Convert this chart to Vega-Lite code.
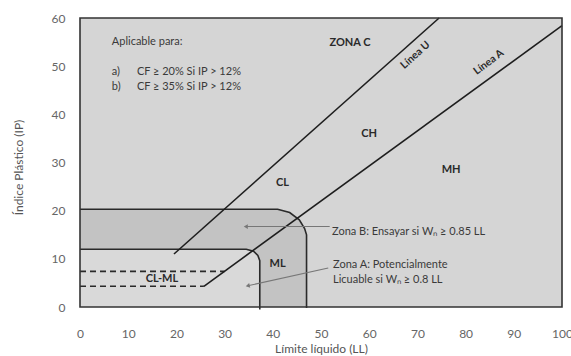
{
  "$schema": "https://vega.github.io/schema/vega-lite/v6.json",
  "width": 482,
  "height": 289,
  "autosize": {"type": "none"},
  "padding": {"left": 80, "top": 18, "right": 9, "bottom": 49},
  "background": "white",
  "config": {
    "view": {"stroke": null},
    "font": "Lato",
    "text": {"font": "Lato"}
  },
  "datasets": {
    "frame": [{"ll0": 0, "ll1": 100, "ip0": 0, "ip1": 60}],
    "zoneB": [
      {"ll": 0, "ip": 20.3},
      {"ll": 41, "ip": 20.3},
      {"ll": 43.5, "ip": 19.6},
      {"ll": 45.5, "ip": 18.1},
      {"ll": 46.6, "ip": 16.3},
      {"ll": 47, "ip": 15}
    ],
    "zoneA": [
      {"ll": 0, "ip": 12},
      {"ll": 34.5, "ip": 12},
      {"ll": 36, "ip": 11.6},
      {"ll": 36.9, "ip": 10.7},
      {"ll": 37.3, "ip": 9.6}
    ],
    "outlines": [
      {"id": "B", "k": 1, "ll": 0, "ip": 20.3},
      {"id": "B", "k": 2, "ll": 41, "ip": 20.3},
      {"id": "B", "k": 3, "ll": 43.5, "ip": 19.6},
      {"id": "B", "k": 4, "ll": 45.5, "ip": 18.1},
      {"id": "B", "k": 5, "ll": 46.6, "ip": 16.3},
      {"id": "B", "k": 6, "ll": 47, "ip": 15},
      {"id": "B", "k": 7, "ll": 47, "ip": -0.2},
      {"id": "A", "k": 1, "ll": 0, "ip": 12},
      {"id": "A", "k": 2, "ll": 34.5, "ip": 12},
      {"id": "A", "k": 3, "ll": 36, "ip": 11.6},
      {"id": "A", "k": 4, "ll": 36.9, "ip": 10.7},
      {"id": "A", "k": 5, "ll": 37.3, "ip": 9.6},
      {"id": "A", "k": 6, "ll": 37.3, "ip": -0.5}
    ],
    "classLines": [
      {"id": "U", "k": 1, "ll": 19.5, "ip": 11},
      {"id": "U", "k": 2, "ll": 74.5, "ip": 60},
      {"id": "Aline", "k": 1, "ll": 25.7, "ip": 4.3},
      {"id": "Aline", "k": 2, "ll": 100, "ip": 58.4}
    ],
    "dashed": [
      {"id": "d4", "k": 1, "ll": 0, "ip": 4.3},
      {"id": "d4", "k": 2, "ll": 25.7, "ip": 4.3},
      {"id": "d7", "k": 1, "ll": 0, "ip": 7.4},
      {"id": "d7", "k": 2, "ll": 30, "ip": 7.4}
    ],
    "arrows": [
      {"id": "toB", "k": 1, "ll": 34.4, "ip": 16.7},
      {"id": "toB", "k": 2, "ll": 51.8, "ip": 16.7},
      {"id": "toA", "k": 1, "ll": 34.8, "ip": 4.4},
      {"id": "toA", "k": 2, "ll": 51.5, "ip": 8.1}
    ],
    "heads": [
      {"ll": 34.4, "ip": 16.7, "rot": 0},
      {"ll": 34.8, "ip": 4.4, "rot": -13}
    ],
    "notes": [
      {"ll": 6.6, "ip": 55, "label": "Aplicable para:"},
      {"ll": 6.6, "ip": 48.8, "label": "a)"},
      {"ll": 11.8, "ip": 48.8, "label": "CF ≥ 20% Si IP > 12%"},
      {"ll": 6.6, "ip": 45.6, "label": "b)"},
      {"ll": 11.8, "ip": 45.6, "label": "CF ≥ 35% Si IP > 12%"},
      {"ll": 52.3, "ip": 15.6, "label": "Zona B: Ensayar si Wₙ ≥ 0.85 LL"},
      {"ll": 52.5, "ip": 8.7, "label": "Zona A: Potencialmente"},
      {"ll": 52.5, "ip": 5.6, "label": "Licuable si Wₙ ≥ 0.8 LL"}
    ],
    "zones": [
      {"ll": 56, "ip": 54.8, "label": "ZONA C"},
      {"ll": 60, "ip": 36, "label": "CH"},
      {"ll": 77, "ip": 28.4, "label": "MH"},
      {"ll": 42, "ip": 25.7, "label": "CL"},
      {"ll": 41, "ip": 9, "label": "ML"},
      {"ll": 17, "ip": 5.8, "label": "CL-ML"}
    ],
    "lineU": [{"ll": 69.6, "ip": 52.3, "label": "Línea U"}],
    "lineA": [{"ll": 84.8, "ip": 50.8, "label": "Línea A"}]
  },
  "encoding": {
    "x": {
      "field": "ll",
      "type": "quantitative",
      "scale": {"domain": [0, 100], "nice": false},
      "axis": {
        "title": "Límite líquido (LL)",
        "values": [0, 10, 20, 30, 40, 50, 60, 70, 80, 90, 100],
        "grid": false,
        "domain": false,
        "ticks": false,
        "labelPadding": 21,
        "labelFontSize": 12,
        "labelColor": "#666666",
        "labelFont": "Lato",
        "labelFlush": false,
        "titleFont": "Lato",
        "titleFontSize": 12,
        "titleFontWeight": "normal",
        "titleColor": "#555555",
        "titleY": 41,
        "titleBaseline": "middle"
      }
    },
    "y": {
      "field": "ip",
      "type": "quantitative",
      "scale": {"domain": [0, 60], "nice": false},
      "axis": {
        "title": "Índice Plástico (IP)",
        "values": [0, 10, 20, 30, 40, 50, 60],
        "grid": false,
        "domain": false,
        "ticks": false,
        "labelPadding": 15,
        "labelFontSize": 12,
        "labelColor": "#666666",
        "labelFont": "Lato",
        "labelFlush": false,
        "titleFont": "Lato",
        "titleFontSize": 12,
        "titleFontWeight": "normal",
        "titleColor": "#555555",
        "titleX": -62,
        "titleY": 149,
        "titleAngle": -90,
        "titleBaseline": "middle"
      }
    }
  },
  "layer": [
    {
      "data": {"name": "frame"},
      "mark": {"type": "rect", "fill": "#d5d5d5"},
      "encoding": {
        "x": {"field": "ll0", "type": "quantitative"},
        "x2": {"field": "ll1"},
        "y": {"field": "ip0", "type": "quantitative"},
        "y2": {"field": "ip1"}
      }
    },
    {
      "data": {"name": "zoneB"},
      "mark": {"type": "area", "fill": "#c3c3c3", "orient": "vertical"},
      "encoding": {"y2": {"datum": 0}}
    },
    {
      "data": {"name": "zoneA"},
      "mark": {"type": "area", "fill": "#d9d9d9", "orient": "vertical"},
      "encoding": {"y2": {"datum": 0}}
    },
    {
      "data": {"name": "outlines"},
      "mark": {"type": "line", "color": "#2a2a2a", "strokeWidth": 1.6},
      "encoding": {
        "detail": {"field": "id"},
        "order": {"field": "k", "type": "quantitative"}
      }
    },
    {
      "data": {"name": "dashed"},
      "mark": {"type": "line", "color": "#2a2a2a", "strokeWidth": 1.6, "strokeDash": [6, 4]},
      "encoding": {
        "detail": {"field": "id"},
        "order": {"field": "k", "type": "quantitative"}
      }
    },
    {
      "data": {"name": "classLines"},
      "mark": {"type": "line", "color": "#1e1e1e", "strokeWidth": 1.6},
      "encoding": {
        "detail": {"field": "id"},
        "order": {"field": "k", "type": "quantitative"}
      }
    },
    {
      "data": {"values": [{"ll": 50}]},
      "mark": {"type": "rule", "color": "#8a8a8a", "strokeWidth": 0.8},
      "encoding": {
        "y": {"datum": 0, "type": "quantitative"},
        "y2": {"datum": 60}
      }
    },
    {
      "data": {"name": "arrows"},
      "mark": {"type": "line", "color": "#777777", "strokeWidth": 1.1},
      "encoding": {
        "detail": {"field": "id"},
        "order": {"field": "k", "type": "quantitative"}
      }
    },
    {
      "data": {"name": "heads"},
      "mark": {"type": "point", "shape": "triangle-left", "filled": true, "color": "#777777", "size": 22, "opacity": 1},
      "encoding": {
        "angle": {"field": "rot", "type": "quantitative", "scale": null}
      }
    },
    {
      "data": {"name": "notes"},
      "mark": {"type": "text", "align": "left", "baseline": "middle", "fontSize": 11, "color": "#3a3a3a", "font": "Lato"},
      "encoding": {"text": {"field": "label"}}
    },
    {
      "data": {"name": "zones"},
      "mark": {"type": "text", "align": "center", "baseline": "middle", "fontSize": 11, "fontWeight": "bold", "color": "#2a2a2a", "font": "Lato"},
      "encoding": {"text": {"field": "label"}}
    },
    {
      "data": {"name": "lineU"},
      "mark": {"type": "text", "align": "center", "baseline": "middle", "fontSize": 10.5, "fontWeight": "bold", "color": "#2a2a2a", "font": "Lato", "angle": 318},
      "encoding": {"text": {"field": "label"}}
    },
    {
      "data": {"name": "lineA"},
      "mark": {"type": "text", "align": "center", "baseline": "middle", "fontSize": 10.5, "fontWeight": "bold", "color": "#2a2a2a", "font": "Lato", "angle": 323},
      "encoding": {"text": {"field": "label"}}
    },
    {
      "data": {"name": "frame"},
      "mark": {"type": "rect", "fill": null, "stroke": "#333333", "strokeWidth": 1.6},
      "encoding": {
        "x": {"field": "ll0", "type": "quantitative"},
        "x2": {"field": "ll1"},
        "y": {"field": "ip0", "type": "quantitative"},
        "y2": {"field": "ip1"}
      }
    }
  ]
}
